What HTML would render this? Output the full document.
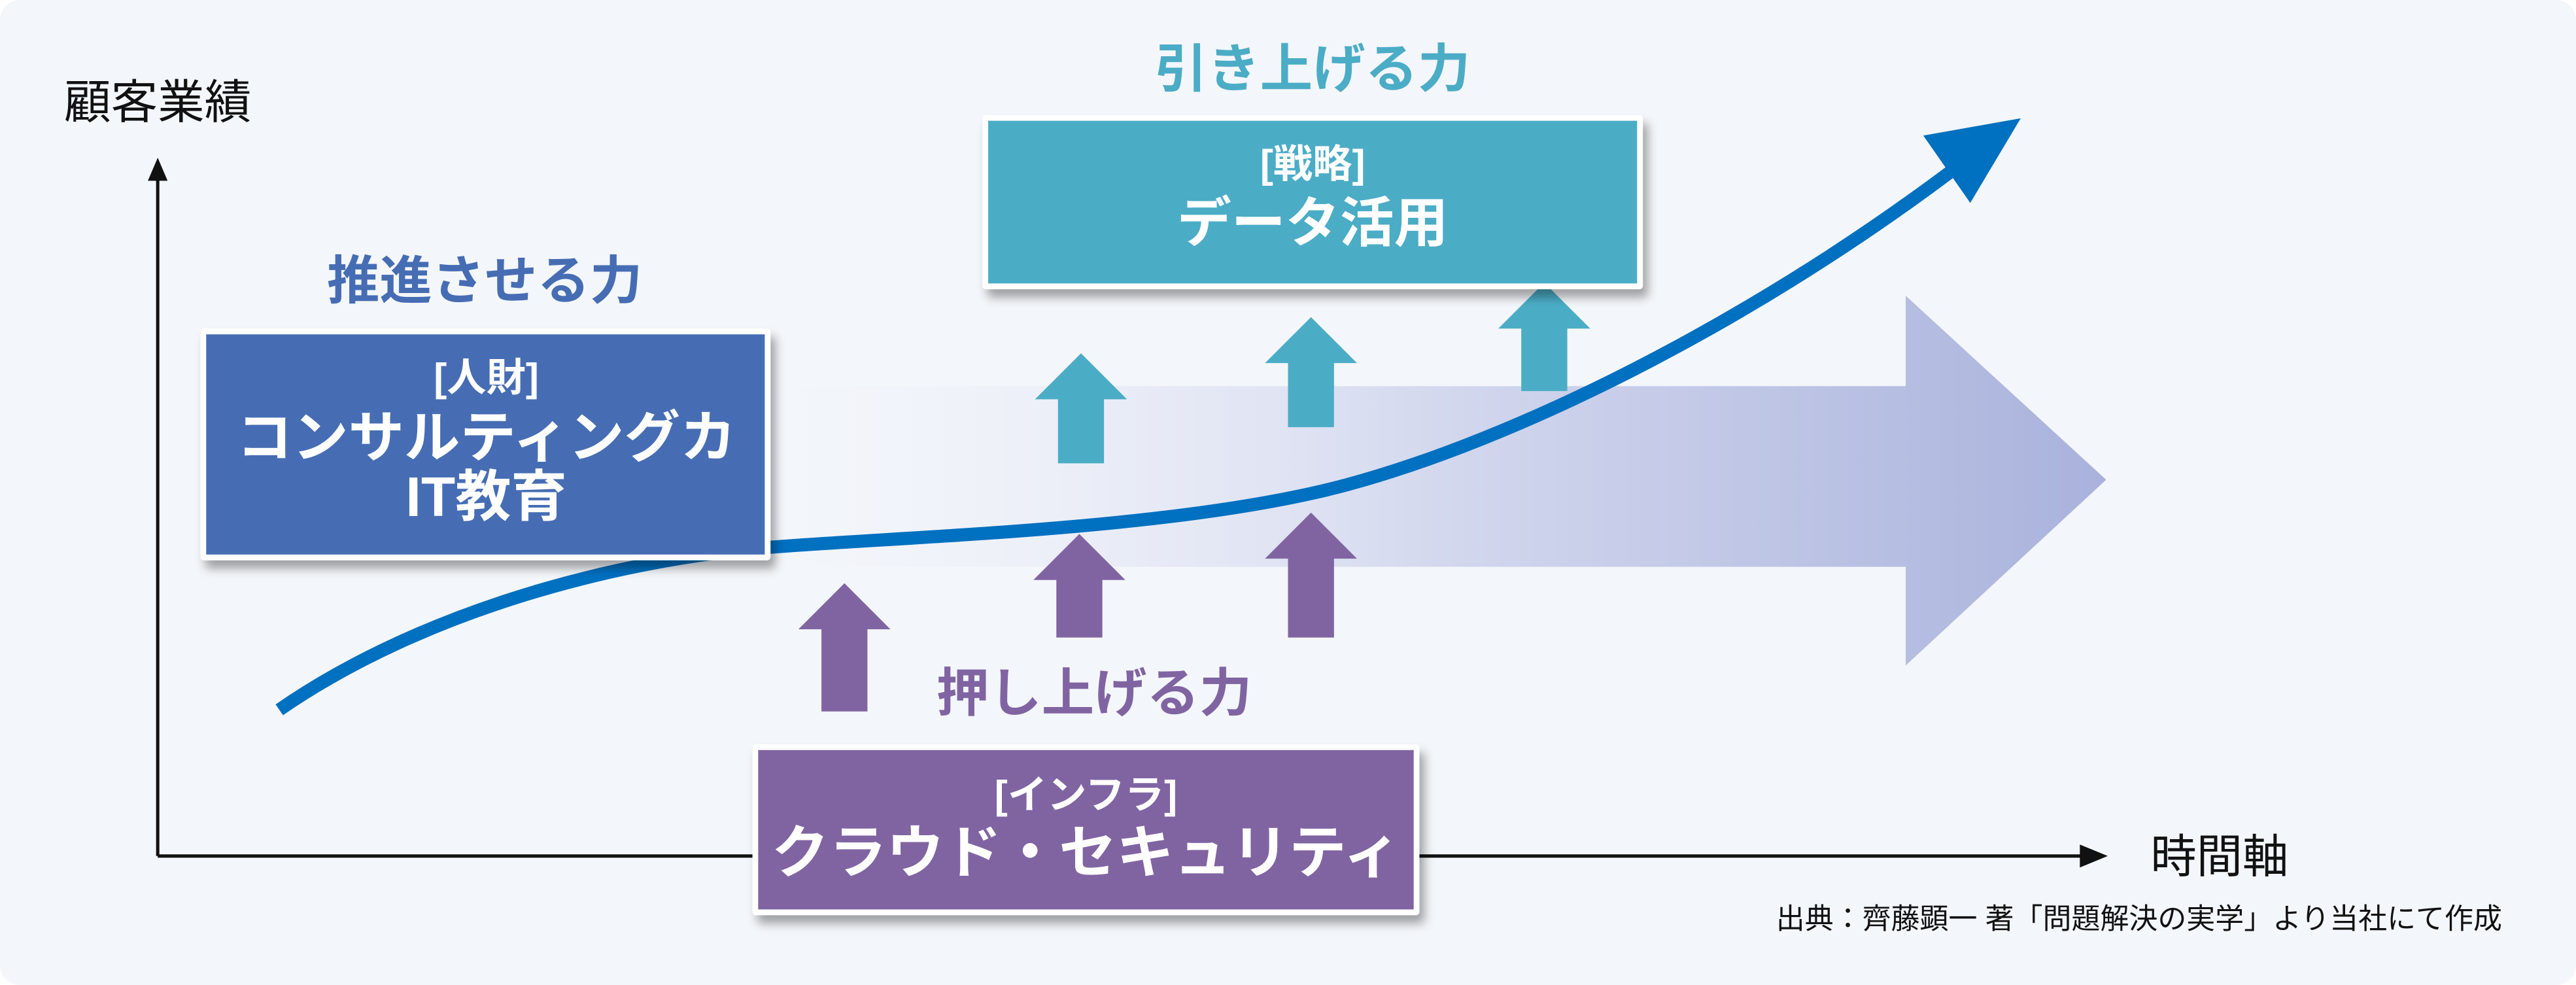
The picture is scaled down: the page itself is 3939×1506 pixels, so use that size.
<!DOCTYPE html>
<html><head><meta charset="utf-8"><style>
html,body{margin:0;padding:0;background:#fff;}
svg{display:block;}
text{font-family:"Liberation Sans","Noto Sans CJK JP",sans-serif;}
</style></head><body>
<svg width="3939" height="1506" viewBox="0 0 1568 599.5" xmlns="http://www.w3.org/2000/svg">
<defs>
<linearGradient id="g" x1="0" x2="1" y1="0" y2="0">
<stop offset="0" stop-color="#f3f5fb" stop-opacity="0.2"/>
<stop offset="0.5" stop-color="#d3d8ee"/>
<stop offset="1" stop-color="#a9b2dc"/>
</linearGradient>
<filter id="sh" x="-10%" y="-10%" width="130%" height="140%">
<feDropShadow dx="3" dy="5" stdDeviation="3" flood-color="#000" flood-opacity="0.35"/>
</filter>
</defs>
<rect x="0" y="0" width="1568" height="599.5" rx="12" fill="#f3f6fa"/>
<polygon points="470,235 1160,235 1160,180 1282,292 1160,405 1160,345 470,345" fill="url(#g)"/>
<line x1="96" y1="108" x2="96" y2="521" stroke="#111" stroke-width="2"/>
<polygon points="96,96 90,110 102,110" fill="#111"/>
<line x1="96" y1="521" x2="1268" y2="521" stroke="#111" stroke-width="2"/>
<polygon points="1283,521 1266,514 1266,528" fill="#111"/>
<text x="96" y="72" font-size="28.5" text-anchor="middle" fill="#111">顧客業績</text>
<text x="1351" y="531" font-size="28" text-anchor="middle" fill="#111">時間軸</text>
<text x="1523" y="565" font-size="17.5" text-anchor="end" fill="#111">出典：齊藤顕一 著「問題解決の実学」より当社にて作成</text>
<g fill="#4bacc6">
<polygon points="658,215 686,243 672,243 672,282 644,282 644,243 630,243"/>
<polygon points="798,193 826,221 812,221 812,260 784,260 784,221 770,221"/>
<polygon points="940,172 968,200 954,200 954,238 926,238 926,200 912,200"/>
</g>
<path d="M170,432 C260,370 380,340 470,333 S720,322 820,295 S1060,200 1188,104" fill="none" stroke="#0070c0" stroke-width="8"/>
<polygon points="1230,72 1170.7,82.5 1199.3,123.5" fill="#0070c0"/>
<g fill="#8064a2">
<polygon points="514,355 542,383 528,383 528,433 500,433 500,383 486,383"/>
<polygon points="657,325 685,353 671,353 671,388 643,388 643,353 629,353"/>
<polygon points="798,312 826,340 812,340 812,388 784,388 784,340 770,340"/>
</g>
<text x="799" y="53" font-size="32" font-weight="bold" text-anchor="middle" fill="#4bacc6">引き上げる力</text>
<text x="295" y="182" font-size="32" font-weight="bold" text-anchor="middle" fill="#466db3">推進させる力</text>
<text x="666" y="433" font-size="32" font-weight="bold" text-anchor="middle" fill="#8064a2">押し上げる力</text>
<g filter="url(#sh)">
<rect x="122" y="200" width="347" height="141" fill="#fff" rx="2"/>
</g>
<rect x="125.5" y="203.5" width="340" height="134" fill="#466db4"/>
<text x="296" y="238" font-size="24" font-weight="bold" text-anchor="middle" fill="#fff">[人財]</text>
<text x="296" y="278" font-size="34" font-weight="bold" text-anchor="middle" fill="#fff">コンサルティングカ</text>
<text x="296" y="314" font-size="34" font-weight="bold" text-anchor="middle" fill="#fff">IT教育</text>
<g filter="url(#sh)">
<rect x="598" y="70" width="402" height="106" fill="#fff" rx="2"/>
</g>
<rect x="601.5" y="73.5" width="395" height="99" fill="#4bacc6"/>
<text x="799" y="108" font-size="24" font-weight="bold" text-anchor="middle" fill="#fff">[戦略]</text>
<text x="799" y="147" font-size="33" font-weight="bold" text-anchor="middle" fill="#fff">データ活用</text>
<g filter="url(#sh)">
<rect x="458" y="453" width="406" height="104" fill="#fff" rx="2"/>
</g>
<rect x="461.5" y="456.5" width="399" height="97" fill="#8064a2"/>
<text x="661" y="492" font-size="24" font-weight="bold" text-anchor="middle" fill="#fff">[インフラ]</text>
<text x="661" y="531" font-size="35" font-weight="bold" text-anchor="middle" fill="#fff">クラウド・セキュリティ</text>
</svg>
</body></html>
